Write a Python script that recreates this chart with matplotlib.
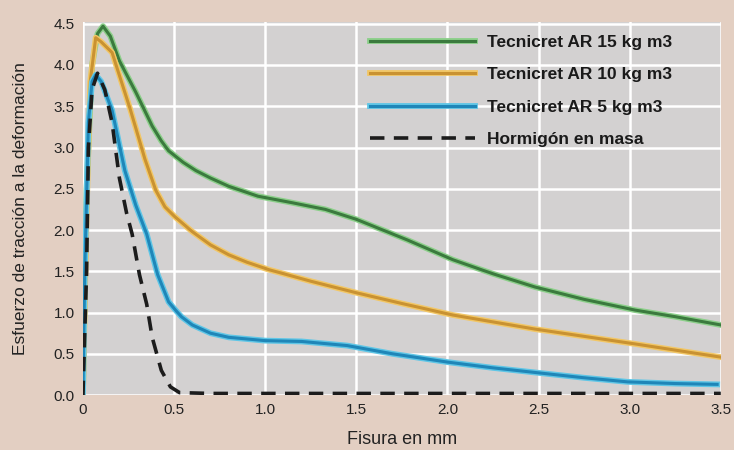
import matplotlib.pyplot as plt
import matplotlib.patheffects as pe

plt.rcParams['font.family'] = ['Liberation Sans', 'DejaVu Sans']

# Curves (Fisura en mm, esfuerzo)
x_15 = [0, 0.02, 0.05, 0.08, 0.11, 0.15, 0.2, 0.29, 0.38, 0.43, 0.47, 0.55, 0.62, 0.7, 0.8,
        0.96, 1.15, 1.33, 1.5, 1.78, 2.03, 2.25, 2.48, 2.75, 3.03, 3.25, 3.5]
y_15 = [0, 2.5, 4.0, 4.38, 4.47, 4.35, 4.05, 3.67, 3.26, 3.08, 2.96, 2.82, 2.72, 2.63, 2.53,
        2.41, 2.33, 2.25, 2.13, 1.88, 1.64, 1.47, 1.31, 1.16, 1.03, 0.95, 0.85]

x_10 = [0, 0.02, 0.04, 0.07, 0.1, 0.16, 0.26, 0.34, 0.4, 0.45, 0.5, 0.6, 0.7, 0.8, 0.9, 1.02,
        1.25, 1.5, 1.75, 2.03, 2.48, 3.03, 3.5]
y_10 = [0, 2.2, 3.8, 4.33, 4.28, 4.15, 3.46, 2.86, 2.48, 2.28, 2.17, 1.98, 1.82, 1.7, 1.61, 1.52,
        1.38, 1.24, 1.11, 0.97, 0.8, 0.62, 0.46]

x_5 = [0, 0.01, 0.03, 0.05, 0.07, 0.1, 0.16, 0.23, 0.29, 0.35, 0.41, 0.47, 0.5, 0.54, 0.6,
       0.7, 0.8, 0.9, 1.0, 1.2, 1.45, 1.7, 2.0, 2.25, 2.54, 2.75, 2.99, 3.25, 3.48]
y_5 = [0, 1.5, 3.3, 3.8, 3.88, 3.8, 3.45, 2.72, 2.3, 1.95, 1.46, 1.13, 1.05, 0.95, 0.85,
       0.75, 0.7, 0.68, 0.66, 0.65, 0.6, 0.5, 0.4, 0.33, 0.26, 0.21, 0.16, 0.14, 0.13]

x_hm = [0, 0.02, 0.03, 0.05, 0.08, 0.12, 0.16, 0.2, 0.24, 0.27, 0.31, 0.35, 0.38, 0.43, 0.48,
        0.53, 0.7, 1.0, 1.5, 2.0, 2.5, 3.0, 3.5]
y_hm = [0, 1.5, 3.0, 3.7, 3.9, 3.7, 3.3, 2.63, 2.2, 1.95, 1.46, 1.1, 0.7, 0.3, 0.1,
        0.03, 0.02, 0.02, 0.02, 0.02, 0.02, 0.02, 0.02]

labels = ['Tecnicret AR 15 kg m3', 'Tecnicret AR 10 kg m3', 'Tecnicret AR 5 kg m3', 'Hormigón en masa']
x_ticks = [0, 0.5, 1.0, 1.5, 2.0, 2.5, 3.0, 3.5]
x_tick_labels = ['0', '0.5', '1.0', '1.5', '2.0', '2.5', '3.0', '3.5']
y_ticks = [0.0, 0.5, 1.0, 1.5, 2.0, 2.5, 3.0, 3.5, 4.0, 4.5]

fig = plt.figure(figsize=(7.34, 4.5), dpi=100, facecolor='#e3cfc2')
ax = fig.add_axes([0.113, 0.122, 0.869, 0.829])
ax.set_facecolor('#d3d1d1')

def glow(c):
    return [pe.Stroke(linewidth=4.2, foreground=c), pe.Normal()]

ax.plot(x_15, y_15, color='#3b7a3e', lw=2.2, label=labels[0], path_effects=glow('#8ccf8a'))
ax.plot(x_10, y_10, color='#c99232', lw=2.2, label=labels[1], path_effects=glow('#f2c766'))
ax.plot(x_5, y_5, color='#1f86b8', lw=2.2, label=labels[2], path_effects=glow('#5fc6e6'))
ax.plot(x_hm, y_hm, color='#1c1c1c', lw=2.6, dashes=(4, 2.6), label=labels[3])

ax.set_xlim(0, 3.5)
ax.set_ylim(0, 4.52)
ax.set_xticks(x_ticks)
ax.set_xticklabels(x_tick_labels)
ax.set_yticks(y_ticks)
ax.set_yticklabels([f'{v:.1f}' for v in y_ticks])
ax.grid(True, color='white', lw=1.8)
ax.set_axisbelow(True)
for s in ax.spines.values():
    s.set_visible(False)
ax.tick_params(length=0, labelsize=11, colors='#222222', pad=6)

ax.set_xlabel('Fisura en mm', fontsize=13, color='#222222', labelpad=10)
ax.set_ylabel('Esfuerzo de tracción a la deformación', fontsize=12.5, color='#222222', labelpad=18)

leg = ax.legend(loc='upper left', bbox_to_anchor=(0.437, 0.99), frameon=False,
                handlelength=6.0, handletextpad=0.7, labelspacing=1.0, borderpad=0,
                prop={'size': 12.5, 'weight': 'bold'})
for t in leg.get_texts():
    t.set_color('#1a1a1a')

fig.savefig('out.png', dpi=100, facecolor=fig.get_facecolor())
